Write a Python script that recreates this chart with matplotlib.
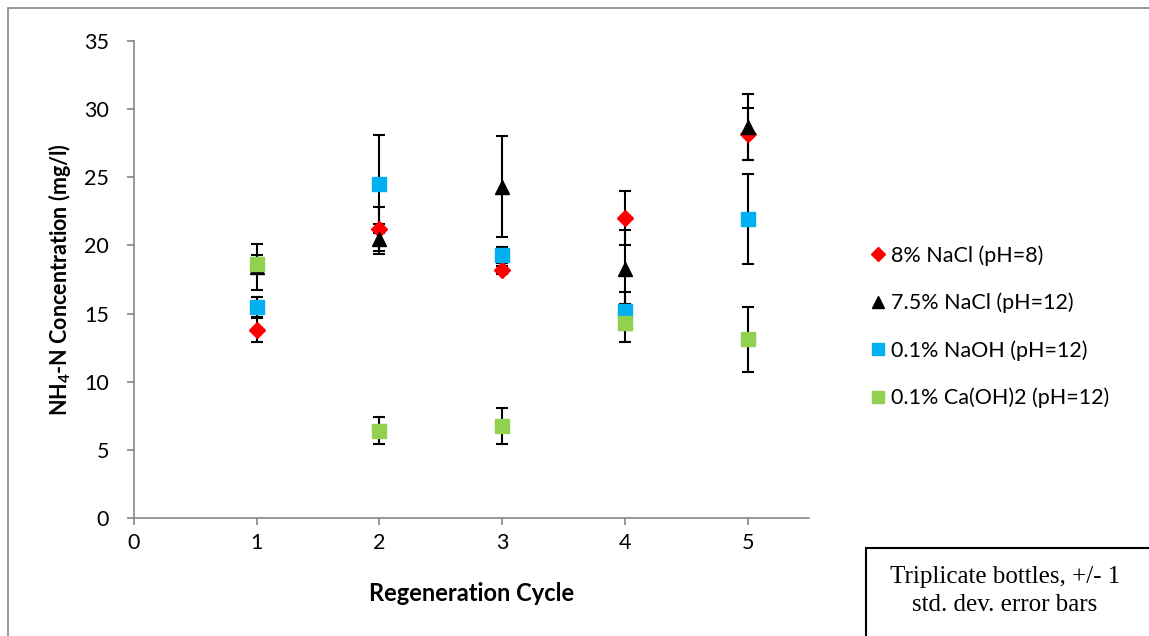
import matplotlib
matplotlib.use("Agg")
from matplotlib import pyplot as plt
from matplotlib.patches import Rectangle

plt.rcParams['font.family'] = ['Lato', 'DejaVu Sans']
plt.rcParams['mathtext.fontset'] = 'custom'
plt.rcParams['mathtext.rm'] = 'Lato'
plt.rcParams['mathtext.bf'] = 'Lato:bold'

cycles = [1, 2, 3, 4, 5]
labels = ['8% NaCl (pH=8)', '7.5% NaCl (pH=12)', '0.1% NaOH (pH=12)', '0.1% Ca(OH)2 (pH=12)']
nacl8 = [13.8, 21.2, 18.2, 22.0, 28.2]
nacl8_err = [0.9, 1.6, 0.3, 2.0, 1.9]
nacl75 = [18.4, 20.5, 24.3, 18.3, 28.7]
nacl75_err = [1.7, 1.1, 3.7, 2.8, 2.4]
naoh = [15.5, 24.5, 19.3, 15.2, 21.95]
naoh_err = [0.75, 3.6, 0.6, 1.4, 3.3]
caoh = [18.65, 6.4, 6.75, 14.3, 13.1]
caoh_err = [0.65, 1.0, 1.3, 1.4, 2.4]

series = [
    (nacl8, nacl8_err, 'D', '#FF0000', 8.5),
    (nacl75, nacl75_err, '^', 'black', 10),
    (naoh, naoh_err, 's', '#00B0F0', 10),
    (caoh, caoh_err, 's', '#92D050', 10),
]

fig = plt.figure(figsize=(11.49, 6.36), dpi=100)
ax = fig.add_axes([134/1149, 118/636, 675/1149, 477/636])

for (vals, errs, mk, col, ms), lab in zip(series, labels):
    ax.errorbar(cycles, vals, yerr=errs, fmt=mk, color=col, ms=ms, mec=col,
                ecolor='black', elinewidth=1.5, capsize=4.5, capthick=1.5, label=lab)

ax.set_xlim(0, 5.5)
ax.set_ylim(0, 35)
ax.set_xticks(range(0, 6))
ax.set_yticks(range(0, 36, 5))
for s in ['top', 'right']:
    ax.spines[s].set_visible(False)
for s in ['left', 'bottom']:
    ax.spines[s].set_color('#868686')
    ax.spines[s].set_linewidth(1.2)
ax.tick_params(colors='#868686', labelcolor='black', labelsize=15.5, length=5, width=1.2, direction='out')
ax.tick_params(axis='y', pad=13)
ax.tick_params(axis='x', pad=6)
ax.set_xlabel('Regeneration Cycle', fontsize=17, fontweight='bold', labelpad=21)
ax.set_ylabel(r'NH$_\mathbf{4}$-N Concentration (mg/l)', fontsize=15.5, fontweight='bold', labelpad=8)

handles, labs = ax.get_legend_handles_labels()
handles = [h[0] for h in handles]
fig.legend(handles, labs, loc='upper left', bbox_to_anchor=(848/1149, 1-226/636),
           frameon=False, fontsize=15.5, handletextpad=0.1, labelspacing=1.25,
           handlelength=1.0, markerscale=0.85)

# outer chart border
fig.add_artist(Rectangle((8/1149, -0.1), 1.2, 1-8/636+0.1, transform=fig.transFigure,
                         fill=False, edgecolor='#868686', lw=1.2))
# note box
fig.add_artist(Rectangle((866/1149, -0.1), 0.3, (636-548)/636+0.1, transform=fig.transFigure,
                         fill=False, edgecolor='black', lw=1.5))
fig.text(1005/1149, 1-591/636, 'Triplicate bottles, +/- 1\nstd. dev. error bars',
         family='Liberation Serif', fontsize=18, ha='center', va='center', linespacing=1.4)

fig.savefig('out.png', dpi=100)
